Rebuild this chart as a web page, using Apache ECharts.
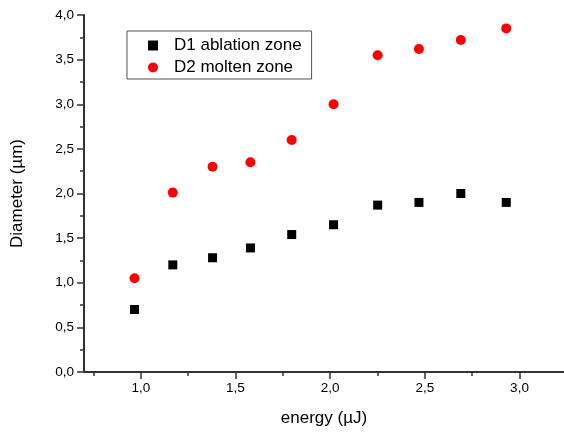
<!DOCTYPE html>
<html>
<head>
<meta charset="utf-8">
<script src="https://cdn.jsdelivr.net/npm/echarts@6/dist/echarts.min.js"></script>
<style>html,body{margin:0;padding:0;background:#fff}#c{width:564px;height:432px}</style>
</head>
<body>
<div id="c"></div>
<script>
const energy = [0.967, 1.169, 1.379, 1.579, 1.797, 2.018, 2.251, 2.469, 2.690, 2.930];
const d1Ablation = [0.70, 1.20, 1.28, 1.39, 1.54, 1.65, 1.87, 1.90, 2.00, 1.90];
const d2Molten = [1.05, 2.01, 2.30, 2.35, 2.60, 3.00, 3.55, 3.62, 3.72, 3.85];
const xMajorTicks = [1.0, 1.5, 2.0, 2.5, 3.0];
const xMinorTicks = [0.75, 1.25, 1.75, 2.25, 2.75];
const seriesNames = ['D1 ablation zone', 'D2 molten zone'];

const font = 'Liberation Sans, Arial, sans-serif';
const fmt = v => v.toFixed(1).replace('.', ',');
const axisColor = '#333';

const chart = echarts.init(document.getElementById('c'));
chart.setOption({
  animation: false,
  backgroundColor: '#fff',
  grid: {left: 84, right: 0, top: 15, bottom: 60, containLabel: false},
  legend: {
    orient: 'vertical',
    left: 127, top: 31,
    padding: [6, 10, 3, 21],
    itemGap: 5,
    itemWidth: 10, itemHeight: 10,
    borderColor: '#555', borderWidth: 1,
    textStyle: {fontFamily: font, fontSize: 17, color: '#000', lineHeight: 16, padding: [0, 0, 0, 11]},
    data: [
      {name: seriesNames[0], icon: 'rect', itemStyle: {opacity: 1}},
      {name: seriesNames[1], icon: 'circle', itemStyle: {opacity: 1}}
    ]
  },
  xAxis: [{
    type: 'value', position: 'bottom',
    min: 0.7, max: 3.235,
    name: 'energy (µJ)', nameLocation: 'middle', nameGap: 38,
    nameTextStyle: {fontFamily: font, fontSize: 17, color: '#000'},
    axisLine: {show: true, lineStyle: {color: axisColor, width: 2}},
    axisTick: {show: true, inside: false, length: 7, customValues: xMajorTicks, lineStyle: {color: axisColor, width: 1.5}},
    axisLabel: {customValues: xMajorTicks, formatter: fmt, fontFamily: font, fontSize: 13.5, color: '#000', margin: 9},
    splitLine: {show: false}
  }, {
    type: 'value', position: 'bottom',
    min: 0.7, max: 3.235,
    axisLine: {show: false},
    axisTick: {show: true, inside: false, length: 4, customValues: xMinorTicks, lineStyle: {color: axisColor, width: 1.5}},
    axisLabel: {show: false},
    splitLine: {show: false}
  }],
  yAxis: {
    type: 'value',
    min: 0, max: 4, interval: 0.5,
    name: 'Diameter (µm)', nameLocation: 'middle', nameGap: 58,
    nameTextStyle: {fontFamily: font, fontSize: 17, color: '#000'},
    axisLine: {show: true, lineStyle: {color: axisColor, width: 2}},
    axisTick: {show: true, inside: false, length: 7, lineStyle: {color: axisColor, width: 1.5}},
    minorTick: {show: true, splitNumber: 2, length: 4, lineStyle: {color: axisColor, width: 1.5}},
    axisLabel: {formatter: fmt, fontFamily: font, fontSize: 13.5, color: '#000', margin: 10},
    splitLine: {show: false},
    minorSplitLine: {show: false}
  },
  series: [{
    name: seriesNames[0], type: 'scatter', xAxisIndex: 0,
    symbol: 'rect', symbolSize: 9,
    itemStyle: {color: '#000', opacity: 1},
    data: energy.map((x, i) => [x, d1Ablation[i]])
  }, {
    name: seriesNames[1], type: 'scatter', xAxisIndex: 0,
    symbol: 'circle', symbolSize: 10,
    itemStyle: {color: '#ff0000', opacity: 1},
    data: energy.map((x, i) => [x, d2Molten[i]])
  }]
});
</script>
</body>
</html>
